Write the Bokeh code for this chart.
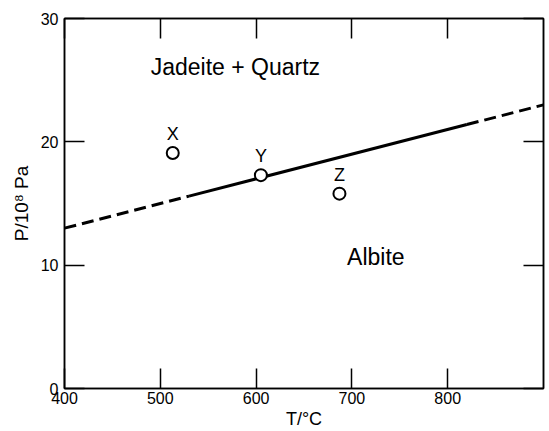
from bokeh.plotting import figure
from bokeh.models import LinearAxis, FixedTicker, Range1d
from bokeh.embed import file_html
from bokeh.resources import INLINE
from bokeh.core.properties import value

# ---- data ----
x_ticks = [400, 500, 600, 700, 800]
y_ticks = [0, 10, 20, 30]

# phase boundary (T in degC, P in 1e8 Pa)
dash_lo_T = [400, 530]
dash_lo_P = [13.0, 15.6]
solid_T = [530, 820]
solid_P = [15.6, 21.4]
dash_hi_T = [820, 900]
dash_hi_P = [21.4, 23.0]

# points X, Y, Z
pt_names = ["X", "Y", "Z"]
pt_T = [513, 605, 687]
pt_P = [19.1, 17.3, 15.8]

# field labels
field_names = ["Jadeite + Quartz", "Albite"]
field_T = [490, 695]
field_P = [26.1, 10.65]

FONT = "Liberation Sans"

p = figure(width=548, height=431, output_backend="svg", toolbar_location=None,
           x_range=Range1d(400, 900), y_range=Range1d(0, 30),
           min_border_left=64, min_border_right=5, min_border_top=18,
           min_border_bottom=43)
p.grid.visible = False
p.background_fill_color = "white"
p.border_fill_color = "white"
p.outline_line_color = "black"
p.outline_line_width = 1.5

def style_axis(ax, ticks, labels=True):
    ax.ticker = FixedTicker(ticks=ticks)
    ax.major_tick_in = 20
    ax.major_tick_out = 0
    ax.minor_tick_line_color = None
    ax.major_tick_line_width = 1.5
    ax.major_tick_line_color = "black"
    ax.axis_line_width = 1.5
    ax.axis_line_color = "black"
    if labels:
        ax.major_label_text_font = FONT
        ax.major_label_text_font_size = "16px"
        ax.major_label_text_color = "black"
    else:
        ax.major_label_text_color = None
        ax.major_label_standoff = 0

xa = p.xaxis[0]
style_axis(xa, x_ticks)
xa.major_label_standoff = 3
xa.axis_label = "T/°C"
xa.axis_label_text_font = FONT
xa.axis_label_text_font_size = "18px"
xa.axis_label_text_font_style = "normal"
xa.axis_label_text_color = "black"
xa.axis_label_standoff = 2

ya = p.yaxis[0]
style_axis(ya, y_ticks)
ya.major_label_standoff = 6
ya.axis_label = "P/10⁸ Pa"
ya.axis_label_text_font = FONT
ya.axis_label_text_font_size = "19px"
ya.axis_label_text_font_style = "normal"
ya.axis_label_text_color = "black"
ya.axis_label_standoff = 6

top = LinearAxis()
style_axis(top, x_ticks, labels=False)
p.add_layout(top, "above")
right = LinearAxis()
style_axis(right, y_ticks, labels=False)
p.add_layout(right, "right")

# boundary
p.line(dash_lo_T, dash_lo_P, line_color="black", line_width=3, line_dash="12 6")
p.line(solid_T, solid_P, line_color="black", line_width=3)
p.line(dash_hi_T, dash_hi_P, line_color="black", line_width=3, line_dash="12 6")

# points
p.scatter(pt_T, pt_P, size=12, marker="circle", fill_color="white",
          line_color="black", line_width=2)
p.text(pt_T, pt_P, text=pt_names, y_offset=-19, text_align="center",
       text_baseline="middle", text_font=value(FONT), text_font_size="18px",
       text_color="black")

# field labels
p.text(field_T, field_P, text=field_names, text_align="left",
       text_baseline="middle", text_font=value(FONT), text_font_size="23px",
       text_color="black")

open("out.html", "w").write(file_html(p, INLINE))
